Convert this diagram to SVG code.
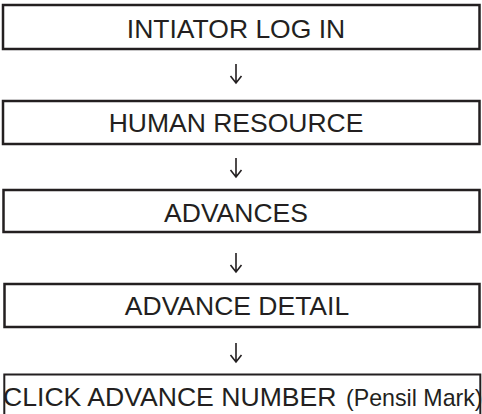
<svg xmlns="http://www.w3.org/2000/svg" width="482" height="414" viewBox="0 0 482 414">
<style>
.box{fill:#fff;stroke:#231f20;stroke-width:2.5}
.lbl{font-family:"Liberation Sans",Arial,sans-serif;font-size:26.5px;fill:#231f20;text-anchor:middle}
.sm{font-size:23.2px}
.arr{fill:none;stroke:#231f20;stroke-width:1.6;stroke-linejoin:miter}
</style>
<defs>
<path id="down" class="arr" d="M0 0V19M-5.5 12L0 19L5.5 12"/>
</defs>
<rect width="482" height="414" fill="#fff"/>
<g id="n1"><rect class="box" x="3" y="5" width="476.5" height="44"/><text class="lbl" x="236" y="38">INTIATOR LOG IN</text></g>
<g id="n2"><rect class="box" x="3" y="101" width="476.5" height="43"/><text class="lbl" x="236" y="132">HUMAN RESOURCE</text></g>
<g id="n3"><rect class="box" x="3.5" y="190" width="476" height="42"/><text class="lbl" x="236" y="222">ADVANCES</text></g>
<g id="n4"><rect class="box" x="4.5" y="284" width="475" height="43"/><text class="lbl" x="237" y="315">ADVANCE DETAIL</text></g>
<g id="n5"><rect class="box" x="4.3" y="374.5" width="476" height="60" style="stroke-width:2"/><text class="lbl" x="3" y="406" style="text-anchor:start;font-size:26.6px">CLICK ADVANCE NUMBER <tspan class="sm" x="346">(Pensil Mark)</tspan></text></g>
<g id="connectors">
<use href="#down" x="236" y="64"/>
<use href="#down" x="236" y="158"/>
<use href="#down" x="236" y="253"/>
<use href="#down" x="236" y="343"/>
</g>
</svg>
